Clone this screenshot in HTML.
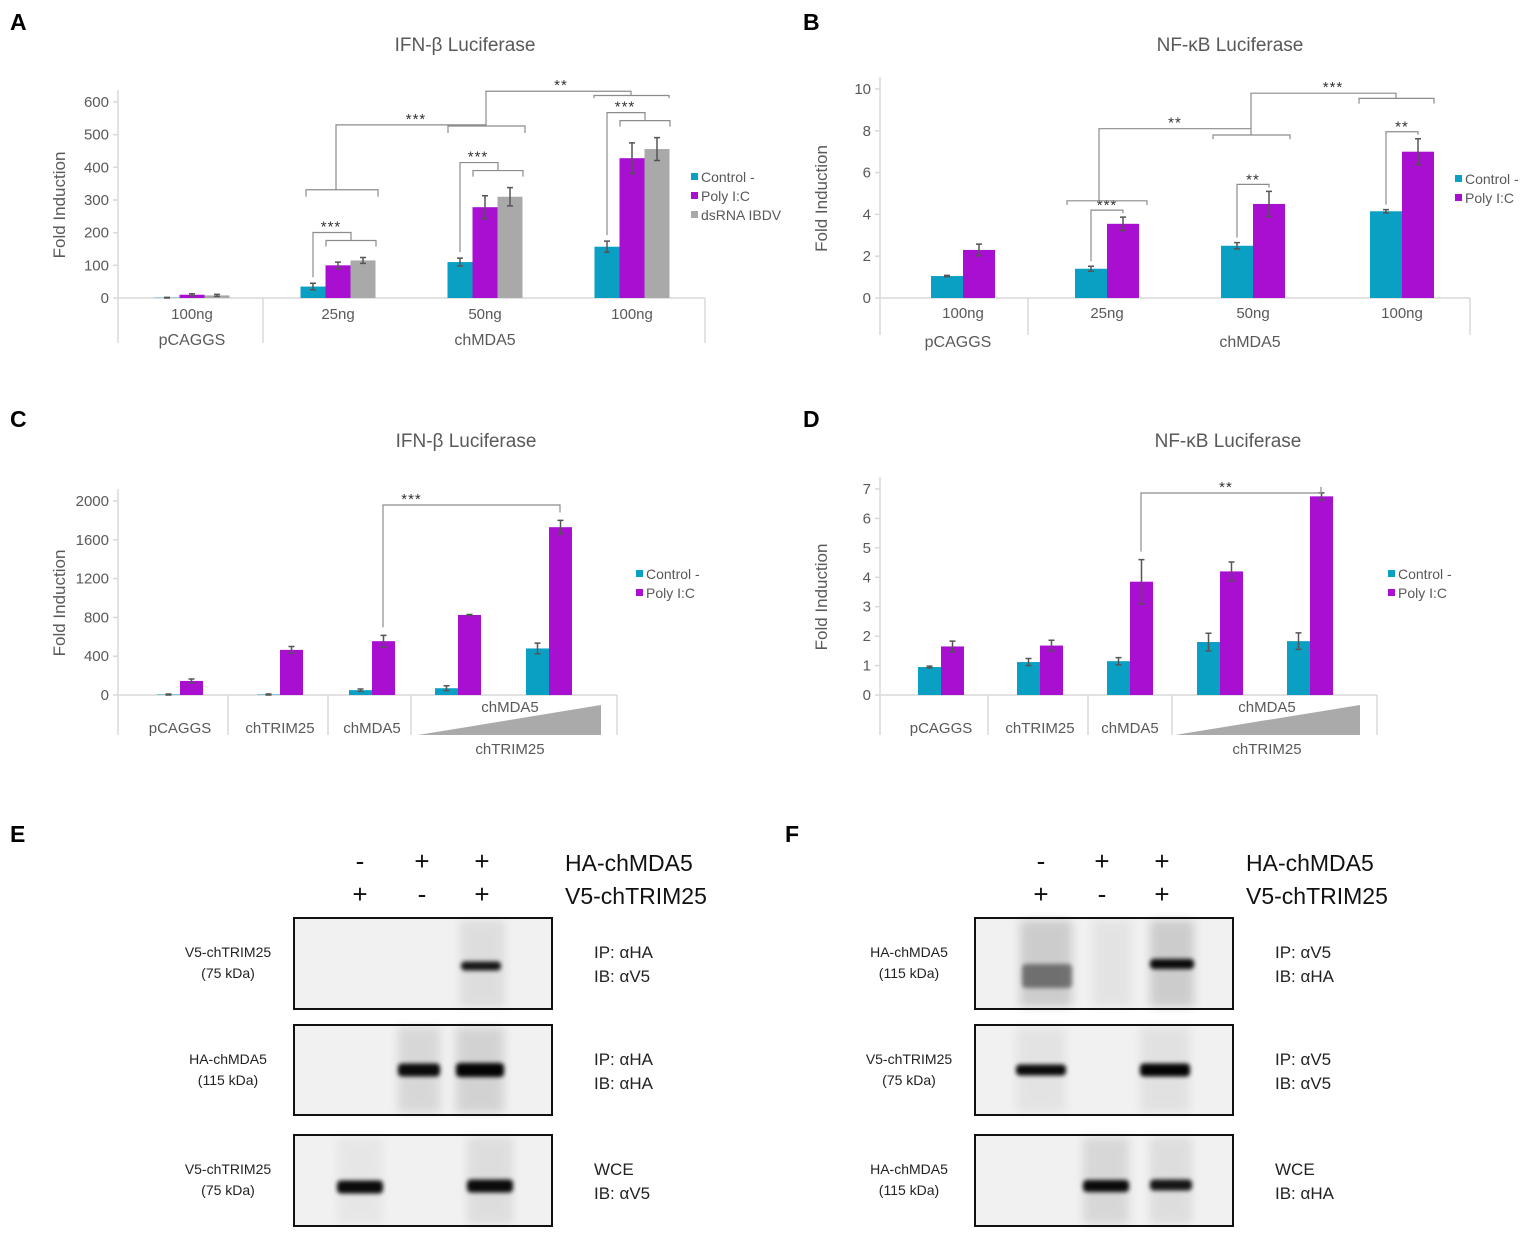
<!DOCTYPE html>
<html><head><meta charset="utf-8"><style>
body{margin:0;background:#fff}
svg{display:block;font-family:"Liberation Sans",sans-serif}
.t{fill:#595959}
</style></head><body>
<svg id="fig" width="1535" height="1233" viewBox="0 0 1535 1233" xmlns="http://www.w3.org/2000/svg">
<defs>
<filter id="blur2" x="-30%" y="-100%" width="160%" height="300%"><feGaussianBlur stdDeviation="2"/></filter>
<filter id="blur6" x="-30%" y="-50%" width="160%" height="200%"><feGaussianBlur stdDeviation="5"/></filter>
</defs>
<g id="charts"></g>
<g id="blots"></g>
</svg>
<script>
// ---- Panel A data ----
const aCats = ["100ng","25ng","50ng","100ng"];
const aControl = [1,35,110,157];
const aPoly = [10,100,278,428];
const aDsrna = [8,115,310,456];
const aControlErr = [1,10,12,17];
const aPolyErr = [3,10,35,47];
const aDsrnaErr = [3,9,28,35];
const aTicks = [0,100,200,300,400,500,600];
// ---- Panel B data ----
const bCats = ["100ng","25ng","50ng","100ng"];
const bControl = [1.05,1.4,2.5,4.15];
const bPoly = [2.3,3.55,4.5,7.0];
const bControlErr = [0.03,0.12,0.15,0.08];
const bPolyErr = [0.28,0.32,0.6,0.62];
const bTicks = [0,2,4,6,8,10];
// ---- Panel C data ----
const cCats = ["pCAGGS","chTRIM25","chMDA5","",""];
const cControl = [5,5,50,70,480];
const cPoly = [145,465,555,825,1730];
const cControlErr = [5,5,12,25,55];
const cPolyErr = [20,35,60,5,70];
const cTicks = [0,400,800,1200,1600,2000];
// ---- Panel D data ----
const dCats = ["pCAGGS","chTRIM25","chMDA5","",""];
const dControl = [0.95,1.12,1.15,1.8,1.83];
const dPoly = [1.65,1.68,3.85,4.2,6.75];
const dControlErr = [0.03,0.12,0.12,0.3,0.28];
const dPolyErr = [0.18,0.18,0.75,0.32,0.12];
const dTicks = [0,1,2,3,4,5,6,7];

const NS="http://www.w3.org/2000/svg";
const root=document.getElementById('charts');
const COLORS=["#0aa0c4","#a80fd1","#a9a9a9"];
function mk(tag,attrs,parent,txt){const e=document.createElementNS(NS,tag);for(const k in attrs)e.setAttribute(k,attrs[k]);if(txt!==undefined)e.textContent=txt;(parent||root).appendChild(e);return e;}

function chart(cfg){
  const g=mk('g',{});
  
  
  const y=v=>cfg.y0-(v-cfg.min)/(cfg.max-cfg.min)*(cfg.y0-cfg.y1);
  const gx=i=>cfg.groupCenters[i];
  const tt=mk('text',{x:cfg.titleX,y:cfg.titleY,'font-size':19,'text-anchor':'middle',class:'t'},g,cfg.title);
  
  
  mk('line',{x1:cfg.ax,y1:cfg.y0,x2:cfg.ax,y2:cfg.y1-12,stroke:'#d9d9d9','stroke-width':1.5},g);
  cfg.ticks.forEach(t=>{
    mk('line',{x1:cfg.ax-5,x2:cfg.ax,y1:y(t),y2:y(t),stroke:'#d9d9d9','stroke-width':1.5},g);
    const tl=mk('text',{x:cfg.ax-9,y:y(t)+5,'font-size':15,'text-anchor':'end',class:'t'},g,String(t));
    
    
  });
  const yt=mk('text',{x:0,y:0,'font-size':17,'text-anchor':'middle',class:'t',transform:`translate(${cfg.ax-53},${(cfg.y0+cfg.y1)/2+5}) rotate(-90)`},g,'Fold Induction');
  
  
  mk('line',{x1:cfg.ax,y1:cfg.y0,x2:cfg.axEnd,y2:cfg.y0,stroke:'#d9d9d9','stroke-width':1.5},g);
  cfg.dividers.forEach(d=>mk('line',{x1:d,x2:d,y1:cfg.y0,y2:cfg.divBottom,stroke:'#d9d9d9','stroke-width':1.5},g));
  cfg.cats.forEach((c,i)=>{ if(!c)return;
    const l=mk('text',{x:gx(i),y:cfg.catY,'font-size':15,'text-anchor':'middle',class:'t'},g,c);
    
    
  });
  const ns=cfg.series.length;
  cfg.series.forEach((s,si)=>{
    s.vals.forEach((v,i)=>{
      const x=gx(i)+(si-ns/2)*cfg.bw;
      const r=mk('rect',{x:x,y:y(v),width:cfg.bw,height:cfg.y0-y(v),fill:COLORS[si]},g);
      
      
      const e=s.err[i],cx=x+cfg.bw/2;
      mk('path',{d:`M${cx},${y(v+e)}V${y(v-e)}M${cx-3},${y(v+e)}H${cx+3}M${cx-3},${y(v-e)}H${cx+3}`,stroke:'#555','stroke-width':1.5,fill:'none'},g);
    });
  });
  cfg.series.forEach((s,si)=>{
    const ly=cfg.legY+si*19;
    mk('rect',{x:cfg.legX,y:ly-9,width:7,height:7,fill:COLORS[si]},g);
    const lt=mk('text',{x:cfg.legX+10,y:ly,'font-size':14,class:'t'},g,s.label);
    
    
  });
  return {g,y,gx};
}
function bracket(g,x1,x2,yTop,y1b,y2b){
  mk('path',{d:`M${x1},${y1b}V${yTop}H${x2}V${y2b}`,stroke:'#8c8c8c','stroke-width':1.2,fill:'none'},g);
}
function stars(g,x,yy,s){mk('text',{x:x,y:yy+3,'font-size':15,'text-anchor':'middle',fill:'#333','letter-spacing':'1'},g,s);}

// ---------- Panel A ----------
{
const A=chart({name:'chart-a-ifnb',title:'IFN-β Luciferase',titleX:465,titleY:51,ax:118,axEnd:705,y0:298,y1:102,min:0,max:600,ticks:aTicks,
 groupCenters:[192,338,485,632],bw:25,cats:aCats,catY:319,dividers:[118,263,705],divBottom:343,
 series:[{key:'control',label:'Control -',vals:aControl,err:aControlErr},{key:'polyic',label:'Poly I:C',vals:aPoly,err:aPolyErr},{key:'dsrna',label:'dsRNA IBDV',vals:aDsrna,err:aDsrnaErr}],legX:691,legY:182});
const g=A.g;
[['pCAGGS',192],['chMDA5',485]].forEach(([t,x])=>{const e=mk('text',{x:x,y:345,'font-size':16,'text-anchor':'middle',class:'t'},g,t);});
[1,2,3].forEach(i=>{
  const cx=A.gx(i)-25, px=A.gx(i), gx2=A.gx(i)+25;
  const top=A.y(aDsrna[i]+aDsrnaErr[i])-25;
  bracket(g,px-12,gx2+13,top+8,top+14,top+14);
  bracket(g,cx,(px-12+gx2+13)/2,top,A.y(aControl[i]+aControlErr[i])-6,top+8);
  stars(g,cx+18,top-4,'***');
});
const ytop1=A.y(310)-12;
bracket(g,A.gx(1)-32,A.gx(1)+40,A.y(310)-12+5,A.y(310)-12+12,A.y(310)-12+12);
const y50=A.y(545);
bracket(g,A.gx(2)-37,A.gx(2)+40,y50+6,y50+13,y50+13);
bracket(g,A.gx(1)-2,A.gx(2)+1,A.y(530),ytop1+5,y50+6);
stars(g,A.gx(1)+78,A.y(530)-4,'***');
bracket(g,A.gx(3)-38,A.gx(3)+37,A.y(620),A.y(612),A.y(612));
bracket(g,A.gx(2)+1,A.gx(3)-1,A.y(633),A.y(530),A.y(620));
stars(g,A.gx(2)+76,A.y(633)-4,'**');
}
// ---------- Panel B ----------
{
const B=chart({name:'chart-b-nfkb',title:'NF-κB Luciferase',titleX:1230,titleY:51,ax:880,axEnd:1470,y0:298,y1:89,min:0,max:10,ticks:bTicks,
 groupCenters:[963,1107,1253,1402],bw:32,cats:bCats,catY:318,dividers:[880,1028,1470],divBottom:335,
 series:[{key:'control',label:'Control -',vals:bControl,err:bControlErr},{key:'polyic',label:'Poly I:C',vals:bPoly,err:bPolyErr}],legX:1455,legY:184});
const g=B.g;
[['pCAGGS',958],['chMDA5',1250]].forEach(([t,x])=>{const e=mk('text',{x:x,y:347,'font-size':16,'text-anchor':'middle',class:'t'},g,t);});
[1,2,3].forEach(i=>{
  const c=B.gx(i)-16,p=B.gx(i)+16,top=B.y(bPoly[i]+bPolyErr[i])-7;
  bracket(g,c,p,top,B.y(bControl[i]+bControlErr[i])-5,top+3);
  stars(g,(c+p)/2,top-3,i==1?'***':'**');
});
bracket(g,B.gx(1)-40,B.gx(1)+40,B.y(4.65),B.y(4.45),B.y(4.45));
bracket(g,B.gx(2)-40,B.gx(2)+37,B.y(7.8),B.y(7.6),B.y(7.6));
bracket(g,B.gx(1)-8,B.gx(2)-2,B.y(8.1),B.y(4.65),B.y(7.8));
stars(g,B.gx(1)+68,B.y(8.1)-4,'**');
bracket(g,B.gx(3)-43,B.gx(3)+32,B.y(9.55),B.y(9.3),B.y(9.3));
bracket(g,B.gx(2)-2,B.gx(3)-6,B.y(9.8),B.y(8.1),B.y(9.55));
stars(g,B.gx(2)+80,B.y(9.8)-4,'***');
}
function triPanel(P,mid,x1,x2){
  const g=P.g;
  const l1=mk('text',{x:mid,y:712,'font-size':15,'text-anchor':'middle',class:'t'},g,'chMDA5');
  
  const tr=mk('path',{d:`M${x1},735L${x2},705V735Z`,fill:'#aaaaaa'},g);
  
  const l2=mk('text',{x:mid,y:754,'font-size':15,'text-anchor':'middle',class:'t'},g,'chTRIM25');
  
}
// ---------- Panel C ----------
{
const C=chart({name:'chart-c-ifnb',title:'IFN-β Luciferase',titleX:466,titleY:447,ax:118,axEnd:617,y0:695,y1:501,min:0,max:2000,ticks:cTicks,
 groupCenters:[180,280,372,458,549],bw:23,cats:cCats,catY:733,dividers:[118,228,328,411,617],divBottom:735,
 series:[{key:'control',label:'Control -',vals:cControl,err:cControlErr},{key:'polyic',label:'Poly I:C',vals:cPoly,err:cPolyErr}],legX:636,legY:579});
triPanel(C,510,418,601);
const xs=C.gx(2)+11,xe=C.gx(4)+11,top=C.y(2000)+4;
bracket(C.g,xs,xe,top,C.y(cPoly[2]+cPolyErr[2])-8,C.y(cPoly[4]+cPolyErr[4])-8);
stars(C.g,(xs+xe)/2-60,top-4,'***');
}
// ---------- Panel D ----------
{
const D=chart({name:'chart-d-nfkb',title:'NF-κB Luciferase',titleX:1228,titleY:447,ax:880,axEnd:1377,y0:695,y1:489,min:0,max:7,ticks:dTicks,
 groupCenters:[941,1040,1130,1220,1310],bw:23,cats:dCats,catY:733,dividers:[880,988,1088,1172,1377],divBottom:735,
 series:[{key:'control',label:'Control -',vals:dControl,err:dControlErr},{key:'polyic',label:'Poly I:C',vals:dPoly,err:dPolyErr}],legX:1388,legY:579});
triPanel(D,1267,1175,1360);
const xs=D.gx(2)+11,xe=D.gx(4)+11,top=D.y(7)+4;
bracket(D.g,xs,xe,top,D.y(dPoly[2]+dPolyErr[2])-8,D.y(dPoly[4]+dPolyErr[4])-6);
stars(D.g,(xs+xe)/2-5,top-4,'**');
}
[['A',10,30],['B',803,30],['C',10,427],['D',803,427],['E',10,842],['F',785,842]].forEach(([t,x,yy])=>{
  const e=mk('text',{x:x,y:yy,'font-size':23,'font-weight':'bold',fill:'#000'},root,t);
  
  
});

// ---------- Blots ----------
const broot=document.getElementById('blots');
function blotPanel(name,ox,lanes,leftLabels,rightLabels,bands,smears){
  const g=mk('g',{},broot);
  
  
  const sym1=['-','+','+'],sym2=['+','-','+'];
  lanes.forEach((lx,i)=>{
    mk('text',{x:lx,y:870,'font-size':26,'text-anchor':'middle',fill:'#111'},g,sym1[i]);
    mk('text',{x:lx,y:903,'font-size':26,'text-anchor':'middle',fill:'#111'},g,sym2[i]);
  });
  mk('text',{x:ox+271,y:871,'font-size':23,fill:'#111'},g,'HA-chMDA5');
  mk('text',{x:ox+271,y:904,'font-size':23,fill:'#111'},g,'V5-chTRIM25');
  const boxes=[[918,91],[1025,90],[1135,91]];
  boxes.forEach(([by,bh],k)=>{
    mk('rect',{x:ox,y:by,width:258,height:bh,fill:'#f1f1f1'},g);
    (smears[k]||[]).forEach(s=>mk('rect',{x:s[0],y:by+2,width:s[1],height:bh-4,fill:'#000',opacity:s[2],filter:'url(#blur6)'},g));
    (bands[k]||[]).forEach(b=>mk('rect',{x:b[0],y:b[1]-b[3]/2,width:b[2],height:b[3],rx:4,fill:'#000',opacity:b[4],filter:'url(#blur2)'},g));
    mk('rect',{x:ox,y:by,width:258,height:bh,fill:'none',stroke:'#111','stroke-width':2},g);
    const ll=leftLabels[k];
    mk('text',{x:ox-66,y:by+39,'font-size':14,'text-anchor':'middle',fill:'#222'},g,ll[0]);
    mk('text',{x:ox-66,y:by+60,'font-size':14,'text-anchor':'middle',fill:'#222'},g,ll[1]);
    const rl=rightLabels[k];
    mk('text',{x:ox+300,y:by+40,'font-size':17,fill:'#222'},g,rl[0]);
    mk('text',{x:ox+300,y:by+64,'font-size':17,fill:'#222'},g,rl[1]);
  });
}
blotPanel('western-blot-e',294,[360,422,482],
 [['V5-chTRIM25','(75 kDa)'],['HA-chMDA5','(115 kDa)'],['V5-chTRIM25','(75 kDa)']],
 [['IP: αHA','IB: αV5'],['IP: αHA','IB: αHA'],['WCE','IB: αV5']],
 [[[461,966,40,9,0.9]],[[398,1070,42,13,0.95],[456,1070,48,14,0.98]],[[337,1187,46,13,0.95],[467,1186,46,13,0.95]]],
 [[[460,45,0.08]],[[398,42,0.1],[456,48,0.12]],[[337,46,0.04],[467,46,0.08]]]);
blotPanel('western-blot-f',975,[1041,1102,1162],
 [['HA-chMDA5','(115 kDa)'],['V5-chTRIM25','(75 kDa)'],['HA-chMDA5','(115 kDa)']],
 [['IP: αV5','IB: αHA'],['IP: αV5','IB: αV5'],['WCE','IB: αHA']],
 [[[1022,976,50,24,0.45],[1150,964,44,10,0.95]],[[1016,1070,50,11,0.95],[1140,1070,50,13,0.98]],[[1083,1186,46,12,0.95],[1150,1185,42,11,0.9]]],
 [[[1020,52,0.15],[1092,40,0.05],[1150,44,0.15]],[[1016,50,0.05],[1140,50,0.06]],[[1083,46,0.1],[1150,42,0.08]]]);
</script>
</body></html>
